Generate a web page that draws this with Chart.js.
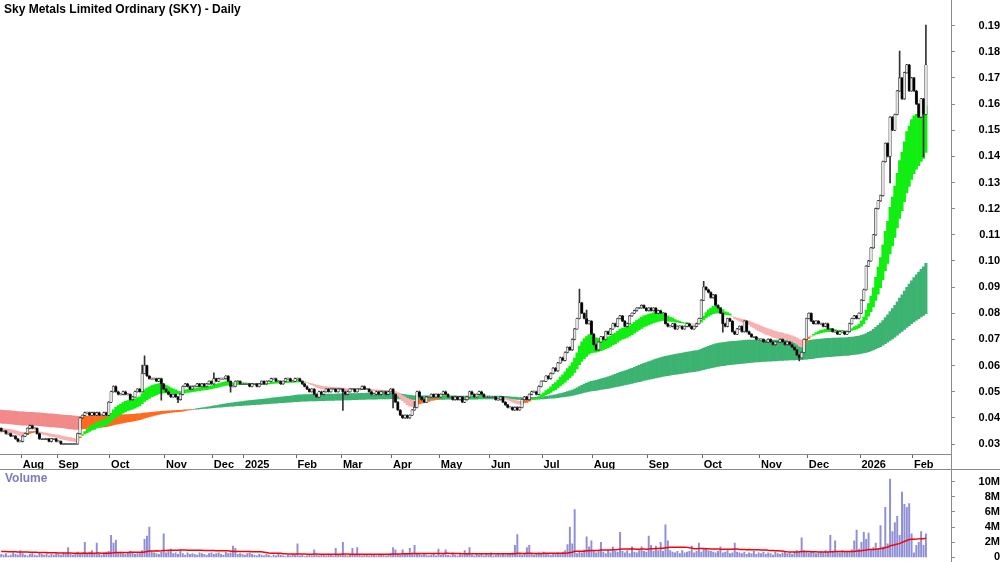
<!DOCTYPE html>
<html>
<head>
<meta charset="utf-8">
<script src="https://cdn.jsdelivr.net/npm/chart.js@4"></script>
<style>
  body { margin: 0; background: #fff; }
  #wrap { position: relative; width: 1000px; height: 562px; overflow: hidden; font-family: "Liberation Sans", Arial, sans-serif; }
  canvas { position: absolute; left: 0; }
  #title { position: absolute; left: 4px; top: 2px; font-weight: bold; font-size: 12px; color: #000; }
  #vlabel { position: absolute; left: 5px; top: 471px; font-weight: bold; font-size: 12px; color: #7b7bbf; }
  .line { position: absolute; background: #8a8a8a; }
</style>
</head>
<body>
<div id="wrap">
  <canvas id="volChart" width="1000" height="112" style="top:461px"></canvas>
  <canvas id="priceChart" width="1000" height="480" style="top:-10px"></canvas>
  <div class="line" style="left:0;top:469px;width:1000px;height:1px"></div>
  <div class="line" style="left:951px;top:0;width:1px;height:562px"></div>
  <div id="title">Sky Metals Limited Ordinary (SKY) - Daily</div>
  <div id="vlabel">Volume</div>
</div>
<script>
// trading bars per month, Jul 2024 .. Feb 2026
let monthNames = ['', 'Aug', 'Sep', 'Oct', 'Nov', 'Dec', '2025', 'Feb', 'Mar', 'Apr', 'May', 'Jun', 'Jul', 'Aug', 'Sep', 'Oct', 'Nov', 'Dec', '2026', 'Feb']
let monthBars = [9, 15, 22, 23, 20, 13, 22, 19, 21, 20, 21, 22, 21, 23, 23, 24, 20, 22, 22, 6]
let emptySlots = 10

// closing prices in cents
let closes = [
  3.5,3.5,3.4,3.4,3.3,3.3,3.2,3.1,3.1,
  3.3,3.4,3.6,3.7,3.6,3.6,3.4,3.2,3.2,3.2,3.2,3.1,3.2,3.2,3.1,
  3.1,3.0,3.0,3.0,3.0,3.0,3.0,3.0,3.4,4.0,4.1,4.2,4.2,4.1,4.2,4.1,4.2,4.1,4.1,4.2,4.1,4.6,
  5.0,5.2,5.0,4.9,4.9,5.0,4.9,4.9,4.7,4.8,5.0,5.1,5.0,5.7,6.0,5.6,5.5,5.5,5.5,5.4,5.5,5.3,5.1,
  5.0,4.9,4.8,4.9,4.8,4.7,4.9,5.2,5.3,5.2,5.1,5.2,5.2,5.3,5.2,5.3,5.2,5.3,5.4,5.3,
  5.5,5.4,5.5,5.5,5.5,5.6,5.4,5.2,5.2,5.4,5.4,5.3,5.3,
  5.3,5.3,5.2,5.3,5.3,5.2,5.3,5.4,5.3,5.4,5.4,5.5,5.5,5.4,5.4,5.3,5.4,5.5,5.5,5.4,5.4,5.5,
  5.5,5.4,5.3,5.2,5.1,5.0,5.1,4.9,4.8,5.0,4.9,5.0,5.1,5.0,5.1,5.1,5.0,5.1,5.1,
  5.0,4.9,5.0,5.1,5.1,5.0,5.1,5.1,5.2,5.1,5.1,5.0,4.9,4.9,5.0,4.9,5.0,5.0,4.9,5.0,5.1,
  4.9,4.6,4.3,4.1,4.0,4.1,4.0,4.1,4.3,4.4,5.0,4.8,4.7,4.6,4.8,4.8,4.9,4.8,4.9,4.8,
  4.9,5.0,4.9,4.8,4.8,4.7,4.8,4.7,4.8,4.6,4.7,4.8,5.0,4.9,4.8,4.9,5.0,4.9,4.8,4.8,4.8,
  4.8,4.8,4.7,4.7,4.8,4.6,4.5,4.4,4.4,4.3,4.4,4.3,4.4,4.7,4.8,4.7,4.9,5.0,5.0,4.9,5.2,5.4,
  5.4,5.6,5.5,5.7,5.9,5.8,6.1,6.3,6.2,6.5,6.7,6.6,7.0,7.4,7.8,8.4,8.0,7.8,7.6,7.7,7.2,
  6.8,6.6,6.9,7.1,7.0,7.3,7.2,7.4,7.6,7.5,7.8,7.9,7.7,7.5,7.6,7.9,8.0,8.1,8.2,8.2,8.3,8.2,8.1,
  8.2,8.1,8.2,8.0,8.1,8.0,8.0,7.6,7.5,7.5,7.6,7.4,7.5,7.5,7.4,7.5,7.6,7.5,7.4,7.5,7.6,7.8,8.5,
  9.0,8.9,8.8,8.6,8.7,8.3,8.2,8.0,7.6,7.5,7.8,7.7,7.3,7.2,7.4,7.5,7.3,7.7,7.3,7.2,7.1,7.1,7.0,7.0,
  7.0,6.9,6.9,7.0,6.9,6.8,6.9,6.9,7.0,6.9,6.8,6.9,6.8,6.7,6.6,6.4,6.3,6.5,7.0,7.8,
  8.0,7.7,7.6,7.7,7.6,7.6,7.5,7.6,7.4,7.4,7.3,7.3,7.2,7.3,7.3,7.2,7.3,7.6,7.8,7.9,7.8,8.0,
  8.5,8.9,9.8,10.0,10.5,11.0,12.0,12.3,12.5,13.8,14.5,14.0,15.5,15.0,15.6,16.5,17.0,16.2,17.2,17.5,16.5,17.0,
  16.5,16.0,15.5,16.2,15.6,17.5
]
let firstOpen = 3.6
// wicks beyond the body: [bar, cents]
let wickHigh = [[59,6.0],[60,6.35],[89,5.7],[173,4.6],[242,8.9],[245,8.1],[294,9.2],[376,18.0],[387,19.0]]
let wickLow = [[67,4.7],[74,4.6],[96,5.0],[143,4.3],[164,4.4],[302,7.3],[334,6.2],[372,13.0],[386,14.0]]

// band averages and their starting values (in cents)
let shortPeriods = [14, 30]
let longPeriods = [120, 260]
let shortSeed = [3.45, 3.6]
let longSeed = [3.8, 4.3]

// volume in millions
let volumes = [
  0.4,0.3,0.5,0.2,0.3,0.6,0.4,0.3,0.9,0.5, 0.3,0.2,0.4,0.5,0.3,0.2,0.6,0.4,0.3,0.5,
  0.2,0.4,0.3,0.5,0.4,0.3,0.6,0.5,1.3,0.4, 0.3,0.5,0.7,0.4,0.6,2.0,0.5,0.7,0.9,0.4,
  1.9,0.5,0.3,0.6,0.7,0.8,2.9,1.9,2.3,0.6, 0.7,0.5,0.4,0.6,0.8,0.7,0.4,0.5,0.6,0.9,
  2.4,2.8,4.0,0.8,0.6,0.5,0.4,0.7,3.1,0.6, 0.8,1.1,0.5,0.6,0.4,1.0,0.5,0.3,0.6,0.4,
  0.5,0.4,0.3,0.6,0.5,0.4,0.3,0.5,0.6,0.4, 0.5,0.6,0.4,0.3,0.7,0.5,0.6,1.5,1.2,0.4,
  0.5,0.4,0.3,0.5,0.6,0.4,0.3,0.2,0.4,0.3, 0.2,0.4,0.3,0.1,0.3,0.2,0.4,0.3,0.2,0.1,
  0.3,0.2,0.4,0.3,1.8,0.2,0.3,0.1,0.2,0.3, 0.2,1.0,0.3,0.2,0.4,0.3,0.2,0.3,0.4,0.2,
  1.2,0.3,0.4,2.0,0.3,0.2,0.4,1.2,0.3,1.3, 0.3,0.2,0.4,0.3,0.2,0.3,0.4,0.2,0.3,0.4,
  0.3,0.2,0.4,0.5,1.3,1.0,0.4,0.3,1.0,0.5, 0.4,1.2,0.6,1.6,0.5,0.4,0.3,0.4,0.3,0.2,
  0.3,0.4,0.2,1.1,0.3,0.4,1.0,0.3,0.2,0.4, 0.3,0.2,0.4,0.3,0.9,0.4,1.3,0.3,0.2,0.4,
  0.3,0.5,0.2,0.4,0.3,0.6,0.2,0.3,0.4,0.3, 0.4,0.3,0.5,0.4,0.6,1.6,3.0,0.4,0.3,0.5,
  1.3,1.6,0.4,0.3,0.5,0.6,0.4,0.7,0.5,0.4, 0.3,0.5,0.4,0.6,0.5,0.7,0.9,1.7,4.0,1.8,
  6.3,0.5,0.8,0.6,1.0,2.7,1.4,2.2,0.9,0.6, 0.8,2.0,0.7,0.5,0.9,0.6,1.4,0.8,0.7,3.3,
  0.8,0.6,0.9,0.5,1.4,0.7,0.6,0.9,1.4,0.8, 0.7,2.8,1.6,0.8,1.5,0.9,2.0,0.8,4.3,2.2,
  0.9,0.7,0.6,0.8,0.5,0.9,0.6,0.7,0.8,1.5, 0.6,0.8,1.9,0.7,1.2,1.1,0.9,0.8,0.7,0.6,
  0.8,1.4,0.6,0.7,0.9,0.5,0.6,1.9,0.7,0.6, 0.5,0.7,0.4,0.6,0.5,0.8,0.4,0.6,0.5,0.7,
  0.4,0.6,0.5,0.3,0.7,0.5,0.4,0.6,0.8,0.5, 0.6,0.4,0.7,0.9,0.8,2.6,0.9,0.7,0.6,0.8,
  0.7,0.5,0.6,0.8,0.6,0.9,0.7,2.9,0.8,2.2, 0.7,0.6,0.9,0.8,0.7,0.8,1.0,2.2,3.6,1.1,
  2.0,3.3,2.4,3.2,1.1,1.3,1.9,1.2,4.2,1.4, 6.6,1.8,10.3,3.4,4.6,5.4,2.9,8.6,7.0,6.6,
  7.1,3.1,0.6,1.6,2.0,3.4,1.6,3.1
]
let volMaPeriod = 50
let volMaSeed = 0.8

let priceTicks = [0.03,0.04,0.05,0.06,0.07,0.08,0.09,0.10,0.11,0.12,0.13,0.14,0.15,0.16,0.17,0.18,0.19]
let volTicks = [0, 2, 4, 6, 8, 10]

// ---- build series
let labels = []
monthBars.forEach((n, m) => {
    for (let k = 0; k < n; k++) labels.push(k == 0 ? monthNames[m] : '')
})
for (let k = 0; k < emptySlots; k++) labels.push('')

let opens = closes.map((c, i) => i == 0 ? firstOpen : closes[i - 1])
let highs = closes.map((c, i) => Math.max(c, opens[i]))
let lows = closes.map((c, i) => Math.min(c, opens[i]))
wickHigh.forEach(w => highs[w[0]] = Math.max(highs[w[0]], w[1]))
wickLow.forEach(w => lows[w[0]] = Math.min(lows[w[0]], w[1]))

function ema(vals, n, seed) {
    let k = 2 / (n + 1)
    let e = seed
    return vals.map(v => (e = v * k + e * (1 - k)))
}
let sFast = ema(closes, shortPeriods[0], shortSeed[0])
let sSlow = ema(closes, shortPeriods[1], shortSeed[1])
let lFast = ema(closes, longPeriods[0], longSeed[0])
let lSlow = ema(closes, longPeriods[1], longSeed[1])

function bandColors(fast, slow, up, pink) {
    return fast.map((f, i) => {
        if (f >= slow[i]) return up
        let prev = i == 0 ? slow[0] + 0.01 : slow[i - 1]
        return slow[i] < prev ? pink : '#ff6a1f'
    })
}

let pad = arr => arr.concat(new Array(emptySlots).fill(null))
let cents = v => v / 100

let shortBand = pad(sFast.map((f, i) => [cents(f), cents(sSlow[i])]))
let longBand = pad(lFast.map((f, i) => [cents(f), cents(lSlow[i])]))
let wicks = pad(closes.map((c, i) => [cents(lows[i]) - 0.0002, cents(highs[i]) + 0.0002]))
let bodies = pad(closes.map((c, i) => {
    let o = cents(opens[i]), cl = cents(c)
    if (Math.abs(o - cl) < 0.0004) return [cl - 0.0002, cl + 0.0002]
    return [o, cl]
}))
let bodyColor = pad(closes.map((c, i) => c >= opens[i] ? '#e4e4e4' : '#000000'))

let volMa = volumes.map((v, i) => {
    let sum = 0
    for (let k = i - volMaPeriod + 1; k <= i; k++) sum += k < 0 ? volMaSeed : volumes[k]
    return sum / volMaPeriod
})

const font = { family: 'Liberation Sans', size: 11, weight: 'bold' }

// ---- price chart
new Chart(document.getElementById('priceChart').getContext('2d'), {
    type: 'bar',
    data: {
        labels: labels,
        datasets: [
            { data: longBand, backgroundColor: pad(bandColors(lFast, lSlow, '#3cb371', '#f28a8a')), barPercentage: 1, categoryPercentage: 1, grouped: false, order: 5 },
            { data: shortBand, backgroundColor: pad(bandColors(sFast, sSlow, '#11ee11', '#f9b0b0')), barPercentage: 1, categoryPercentage: 1, grouped: false, order: 4 },
            { data: wicks, backgroundColor: '#333', barThickness: 1, grouped: false, order: 2 },
            { data: bodies, backgroundColor: bodyColor, borderColor: '#333', borderWidth: 0.6, borderSkipped: false, barThickness: 2.6, grouped: false, order: 1 }
        ]
    },
    options: {
        responsive: false,
        animation: false,
        layout: { padding: 0 },
        plugins: { legend: { display: false }, tooltip: { enabled: false } },
        scales: {
            x: {
                offset: true,
                ticks: { autoSkip: false, maxRotation: 0, align: 'start', padding: 0, font: font, color: '#000', callback: (v, i) => labels[i] },
                grid: { drawOnChartArea: false, tickLength: 4, color: c => labels[c.index] ? '#666' : 'rgba(0,0,0,0)' },
                border: { color: '#8a8a8a' },
                afterFit: s => { s.height = 16 }
            },
            y: {
                position: 'right',
                min: 0.02618,
                max: 0.19955,
                afterBuildTicks: s => { s.ticks = priceTicks.map(v => ({ value: v })) },
                ticks: { autoSkip: false, font: font, color: '#000', crossAlign: 'far', padding: 4, callback: v => v.toFixed(2) },
                grid: { drawOnChartArea: false, tickLength: 4, color: '#8a8a8a' },
                border: { color: '#8a8a8a' },
                afterFit: s => { s.width = 49 }
            }
        }
    }
})

// ---- volume chart
new Chart(document.getElementById('volChart').getContext('2d'), {
    type: 'bar',
    data: {
        labels: labels,
        datasets: [
            { type: 'line', data: pad(volMa), borderColor: '#ff0000', borderWidth: 1.5, pointRadius: 0, order: 0 },
            { data: pad(volumes), backgroundColor: '#8f8fd6', barThickness: 1.3, order: 1 }
        ]
    },
    options: {
        responsive: false,
        animation: false,
        layout: { padding: 0 },
        plugins: { legend: { display: false }, tooltip: { enabled: false } },
        scales: {
            x: { display: false, offset: true },
            y: {
                position: 'right',
                min: -0.65,
                max: 11.3,
                afterBuildTicks: s => { s.ticks = volTicks.map(v => ({ value: v })) },
                ticks: { autoSkip: false, font: font, color: '#000', crossAlign: 'far', padding: 4, callback: v => v == 0 ? '0' : v + 'M' },
                grid: { drawOnChartArea: false, tickLength: 4, color: '#8a8a8a' },
                border: { color: '#8a8a8a' },
                afterFit: s => { s.width = 49 }
            }
        }
    }
})
</script>
</body>
</html>
